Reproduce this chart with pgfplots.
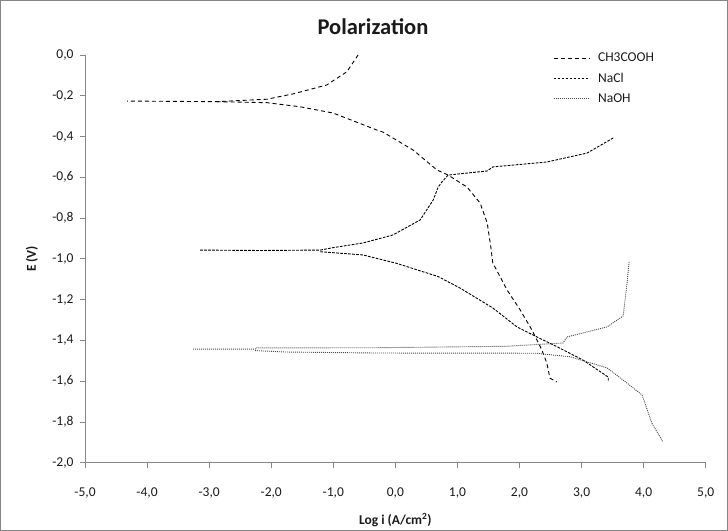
\documentclass[border=0pt]{standalone}
\usepackage{fontspec}
\setmainfont{Carlito}
\usepackage{pgfplots}
\pgfplotsset{compat=1.18}

\definecolor{axisgray}{HTML}{868686}
\definecolor{txt}{HTML}{1A1A1A}

\pgfplotsset{
  ch3/.style ={black,   line width=0.9bp, dash pattern=on 4bp off 3bp},
  nacl/.style={black,   line width=0.9bp, dash pattern=on 2.7bp off 1.3bp},
  naoh/.style={black!70,line width=0.9bp, dash pattern=on 1bp off 1bp},
}

\begin{document}
\begin{tikzpicture}[x=1bp,y=1bp]
\useasboundingbox (0,0) rectangle (728,531);
\draw[axisgray,line width=1bp] (0.5,0.5) rectangle (727.5,530.5);

\begin{axis}[
    at={(85bp,68.3bp)}, anchor=south west,
    width=620.7bp, height=407.7bp, scale only axis,
    xmin=-5, xmax=5, ymin=-2, ymax=0,
    xtick={-5,-4,-3,-2,-1,0,1,2,3,4,5},
    ytick={-2,-1.8,-1.6,-1.4,-1.2,-1,-0.8,-0.6,-0.4,-0.2,0},
    axis lines*=left,
    axis line style={axisgray,line width=0.8bp},
    tick align=outside, major tick length=5bp,
    tick style={axisgray,line width=0.8bp},
    ticklabel style={font=\fontsize{13.5bp}{16bp}\selectfont,text=txt},
    xticklabel style={yshift=-17bp},
    yticklabel style={xshift=-3bp},
    /pgf/number format/.cd, fixed, fixed zerofill, precision=1,
      use comma, assume math mode=true,
    /pgfplots/.cd,
    title={Polarization},
    title style={font=\fontsize{22.5bp}{26bp}\selectfont\bfseries,text=txt,
                 at={(axis description cs:0.464,1.054)},anchor=center},
    xlabel={Log i (A/cm\textsuperscript{2})},
    ylabel={E (V)},
    label style={font=\fontsize{13.5bp}{16bp}\selectfont\bfseries,text=txt},
    xlabel style={at={(axis description cs:0.5,-0.14)},anchor=center},
    ylabel style={at={(axis description cs:-0.0854,0.5)},anchor=center},
    legend style={
        at={(axis description cs:0.754,1.005)}, anchor=north west,
        draw=none, fill=none, inner sep=0pt,
        font=\fontsize{13.5bp}{16bp}\selectfont,
        nodes={inner sep=0pt,text=txt},
        column sep=8bp, row sep=9.5bp,
    },
    legend cell align=left,
    legend image code/.code={\draw[#1] (0bp,0bp) -- (36bp,0bp);},
]

% ---- CH3COOH : anodic branch with the foot at Ecorr -------------
\addplot[ch3] coordinates {
  (-0.60,0.000) (-0.78,-0.082) (-1.105,-0.147) (-1.65,-0.191)
  (-2.07,-0.217) (-2.88,-0.229) (-4.32,-0.226)
};
\addlegendentry{CH3COOH}
% ---- NaCl : anodic branch ---------------------------------------
\addplot[nacl] coordinates {
  (3.51,-0.407) (3.09,-0.481) (2.44,-0.525) (1.57,-0.549) (1.48,-0.569)
  (0.85,-0.589) (0.75,-0.623) (0.69,-0.648) (0.61,-0.711) (0.40,-0.809)
  (-0.04,-0.883) (-0.52,-0.922) (-1.00,-0.945) (-1.21,-0.957)
  (-2.18,-0.959) (-3.16,-0.957)
};
\addlegendentry{NaCl}
% ---- NaOH : anodic branch ---------------------------------------
\addplot[naoh] coordinates {
  (3.765,-1.015) (3.73,-1.128) (3.70,-1.202) (3.67,-1.280) (3.41,-1.334)
  (2.766,-1.383) (2.70,-1.413) (1.77,-1.429) (-0.30,-1.436)
  (-2.24,-1.437) (-2.26,-1.443) (-3.26,-1.443)
};
\addlegendentry{NaOH}

% ---- cathodic branches ------------------------------------------
\addplot[ch3,forget plot] coordinates {
  (-2.88,-0.229) (-2.07,-0.234) (-1.535,-0.254) (-1.00,-0.285)
  (-0.30,-0.368) (-0.20,-0.378) (0.285,-0.466) (0.67,-0.564)
  (0.85,-0.589) (1.155,-0.648) (1.365,-0.726) (1.48,-0.824)
  (1.54,-0.947) (1.57,-1.020) (1.80,-1.153) (2.01,-1.250)
  (2.20,-1.349) (2.36,-1.447) (2.44,-1.511) (2.49,-1.585) (2.60,-1.604)
};
\addplot[nacl,forget plot] coordinates {
  (-1.21,-0.965) (-0.52,-0.981) (0.02,-1.022) (0.69,-1.087)
  (1.04,-1.143) (1.57,-1.241) (1.96,-1.334) (2.28,-1.383)
  (2.61,-1.432) (3.02,-1.496) (3.43,-1.580) (3.43,-1.604)
};
\addplot[naoh,forget plot] coordinates {
  (-2.26,-1.450) (-1.78,-1.457) (-0.30,-1.462) (2.28,-1.463)
  (2.38,-1.467) (2.81,-1.480) (3.41,-1.535) (3.73,-1.609)
  (3.975,-1.668) (4.02,-1.707) (4.13,-1.805) (4.31,-1.898)
};

\end{axis}
\end{tikzpicture}
\end{document}
